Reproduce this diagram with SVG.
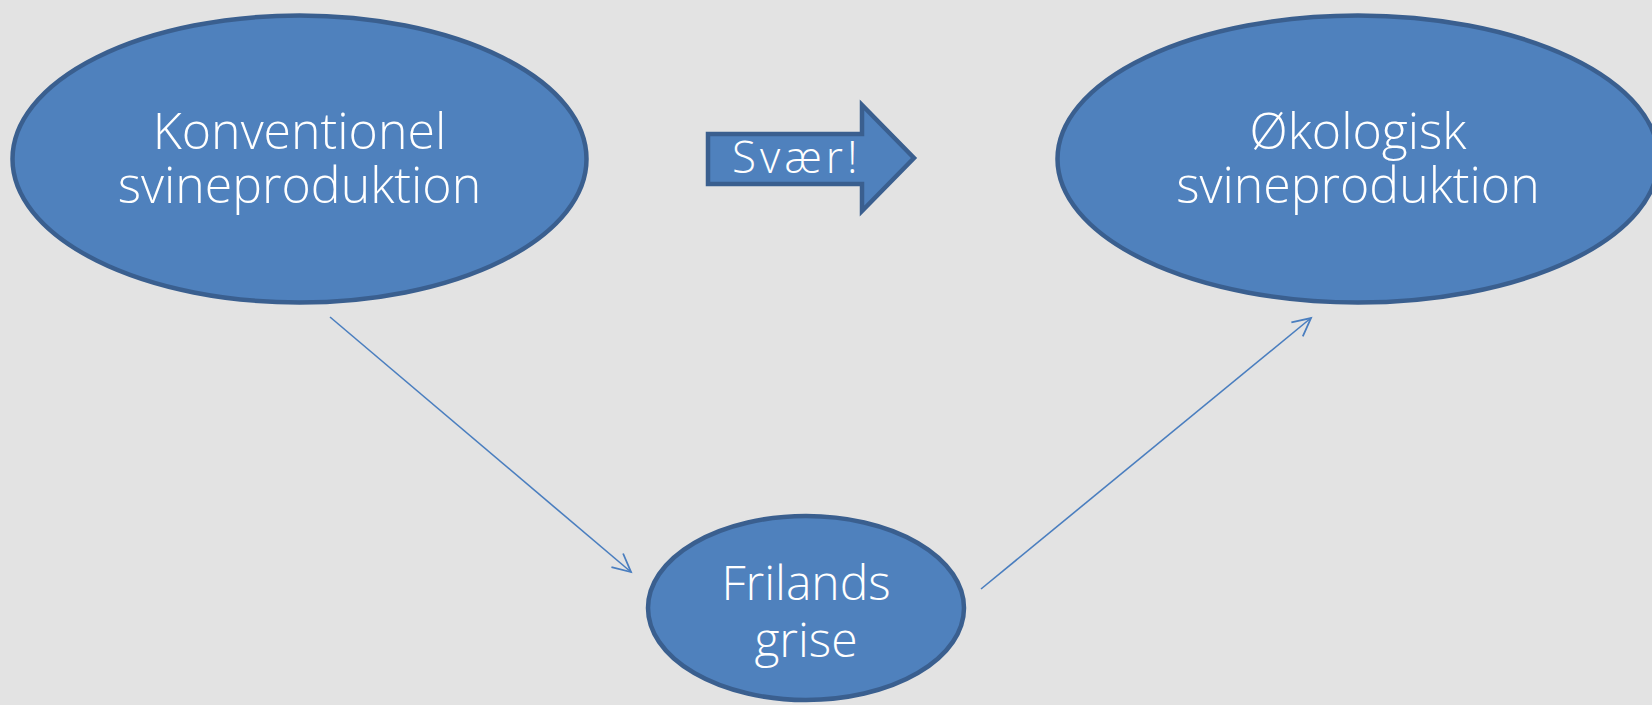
<svg xmlns="http://www.w3.org/2000/svg" width="1652" height="705" viewBox="0 0 1652 705">
<style>
.node{fill:#4f81bd;stroke:#3a5f8f;stroke-width:4.5}
.lbl{fill:#ffffff;font-family:"Open Sans","DejaVu Sans",sans-serif;font-weight:300;font-size:50px;text-anchor:middle}
.sm{font-size:48px}
.conn{stroke:#4a7ebf;stroke-width:1.6;fill:none}
</style>
<defs>
<marker id="ah" markerUnits="userSpaceOnUse" markerWidth="24" markerHeight="24" viewBox="0 0 24 24" refX="20" refY="12" orient="auto">
<path d="M2,3 L20,12 L2,21" fill="none" stroke="#4a7ebf" stroke-width="1.8"/>
</marker>
</defs>
<rect x="0" y="0" width="1652" height="705" fill="#e3e3e3"/>
<g id="connectors">
<line class="conn" x1="330" y1="317" x2="631" y2="572" marker-end="url(#ah)"/>
<line class="conn" x1="981" y1="589" x2="1311" y2="318" marker-end="url(#ah)"/>
</g>
<g id="konventionel">
<ellipse class="node" cx="299.5" cy="159" rx="287" ry="143.5"/>
<text class="lbl" x="299.5" y="149">Konventionel</text>
<text class="lbl" x="299.5" y="203">svineproduktion</text>
</g>
<g id="oekologisk">
<ellipse class="node" cx="1358" cy="159" rx="300.5" ry="143.5"/>
<text class="lbl" x="1358" y="149">Økologisk</text>
<text class="lbl" x="1358" y="203">svineproduktion</text>
</g>
<g id="frilands">
<ellipse class="node" cx="806" cy="608" rx="158" ry="92"/>
<text class="lbl sm" x="806" y="600">Frilands</text>
<text class="lbl sm" x="806" y="657">grise</text>
</g>
<g id="svaer">
<polygon class="node" points="708,134 862,134 862,105 914,158 862,211 862,184 708,184"/>
<text x="732" y="173" fill="#ffffff" font-family="Open Sans, DejaVu Sans, sans-serif" font-weight="300" font-size="44" letter-spacing="4">Svær!</text>
</g>
</svg>
